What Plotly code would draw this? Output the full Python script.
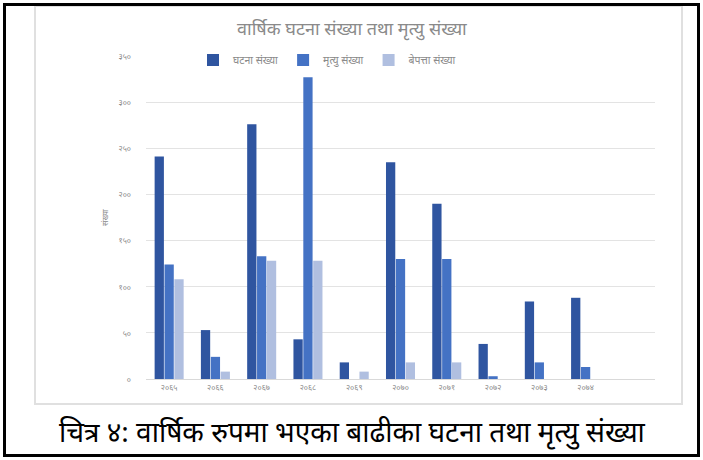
import plotly.graph_objects as go

years = ["२०६५", "२०६६", "२०६७", "२०६८", "२०६९", "२०७०", "२०७१", "२०७२", "२०७३", "२०७४"]
events = [241, 53, 276, 43, 18, 235, 190, 38, 84, 88]
deaths = [124, 24, 133, 327, 0, 130, 130, 3, 18, 13]
missing = [108, 8, 128, 128, 8, 18, 18, 0, 0, 0]
yticks = [0, 50, 100, 150, 200, 250, 300, 350]
ytick_labels = ["०", "५०", "१००", "१५०", "२००", "२५०", "३००", "३५०"]
series_names = ["घटना संख्या", "मृत्यु संख्या", "बेपत्ता संख्या"]

W, H = 703, 460
L, R, T, B = 146, 48, 56, 81
PW, PH = W - L - R, H - T - B

def px(x):
    return (x - L) / PW

def py(y):
    return (H - B - y) / PH

fig = go.Figure()
colors = ["#2f55a0", "#4472c4", "#b0bfe0"]
for name, vals, c in zip(series_names, [events, deaths, missing], colors):
    fig.add_trace(go.Bar(x=years, y=vals, name=name, marker=dict(color=c, line=dict(width=0))))

font = "Noto Sans, Noto Sans Devanagari, sans-serif"
fig.update_layout(
    width=W, height=H,
    margin=dict(l=L, r=R, t=T, b=B),
    paper_bgcolor="white", plot_bgcolor="white",
    barmode="group", bargap=0.36, bargroupgap=0.06,
    font=dict(family=font, color="#8a8a8a", size=8),
    showlegend=True,
    legend=dict(orientation="h", x=px(193), xanchor="left", y=py(60), yanchor="middle",
                font=dict(size=10.5, color="#8a8a8a"), itemwidth=30, tracegroupgap=0,
                bgcolor="rgba(0,0,0,0)"),
    xaxis=dict(type="category", range=[-0.5, 10.5], showgrid=False, showline=True,
               linecolor="#d9d9d9", linewidth=1, ticks="", tickfont=dict(size=8, color="#8a8a8a"),
               fixedrange=True),
    yaxis=dict(range=[0, 350], tickvals=yticks, ticktext=ytick_labels, showgrid=True,
               gridcolor="#e3e3e3", gridwidth=1, zeroline=False, showline=False,
               tickfont=dict(size=8, color="#8a8a8a"), ticks="", ticklabelstandoff=14,
               title=dict(text="संख्या", font=dict(size=8, color="#8a8a8a"), standoff=8)),
)

fig.add_annotation(text="वार्षिक घटना संख्या तथा मृत्यु संख्या", xref="paper", yref="paper",
                   x=px(352), y=py(28), showarrow=False,
                   font=dict(size=18, color="#8a8a8a", family=font), xanchor="center", yanchor="middle")
fig.add_annotation(text="चित्र ४: वार्षिक रुपमा भएका बाढीका घटना तथा मृत्यु संख्या", xref="paper", yref="paper",
                   x=px(352), y=py(431), showarrow=False,
                   font=dict(size=28, color="#000000", family=font), xanchor="center", yanchor="middle")

# chart image frame
fig.add_shape(type="rect", xref="paper", yref="paper", x0=px(35), x1=px(682), y0=py(404), y1=py(6),
              line=dict(color="#e0e0e0", width=2), layer="below")
# outer black border
fig.add_shape(type="rect", xref="paper", yref="paper", x0=px(4.5), x1=px(698.5), y0=py(455.5), y1=py(4.5),
              line=dict(color="black", width=3))

fig.write_html("out.html", config={"displayModeBar": False},
               post_script="document.body.style.margin='0';document.body.style.overflow='hidden';")
